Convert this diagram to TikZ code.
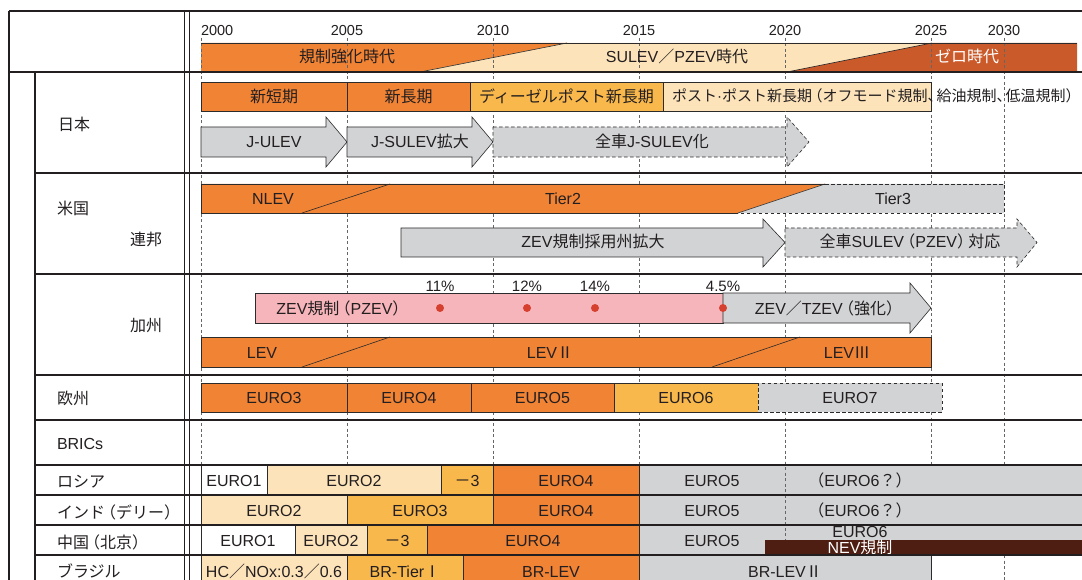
\documentclass[tikz,border=0pt]{standalone}
\usepackage{fontspec}
\setmainfont{Liberation Sans}
\newfontfamily\jp{Noto Sans CJK JP}
\XeTeXinterchartokenstate=1
\newXeTeXintercharclass\jpclass
\newcount\jpc
\newcommand\setjprange[2]{\jpc=#1\relax\loop\XeTeXcharclass\jpc=\jpclass\relax\ifnum\jpc<#2\relax\advance\jpc by 1\relax\repeat}
\setjprange{"3000}{"30FF}
\setjprange{"4E00}{"9FFF}
\setjprange{"FF00}{"FFEF}
\setjprange{"2160}{"217F}
\XeTeXinterchartoks 0 \jpclass = {\jp}
\XeTeXinterchartoks 4095 \jpclass = {\jp}
\XeTeXinterchartoks \jpclass 0 = {\rmfamily}
\XeTeXinterchartoks 4095 0 = {\rmfamily}
\newcommand\lp{\kern-.3em（}
\newcommand\rp{）\kern-.3em}
\definecolor{org}{HTML}{F18334}
\definecolor{yel}{HTML}{F9B84B}
\definecolor{pch}{HTML}{FDE3BA}
\definecolor{zro}{HTML}{CB5A2B}
\definecolor{gry}{HTML}{D2D3D5}
\definecolor{pnk}{HTML}{F6B5BA}
\definecolor{nevc}{HTML}{4F1E12}
\definecolor{dotc}{HTML}{D5402F}
\definecolor{txt}{HTML}{231F20}
\definecolor{ln}{HTML}{2B2B2B}
\newcommand\cell[7]{%
  \pgfmathsetmacro\cw{#3-#2}%
  \pgfmathsetmacro\ch{#5-#4}%
  \node[cellbox,minimum width=\cw pt,minimum height=\ch pt,#6] (#1) at ({(#2+#3)/2},{(#4+#5)/2}) {#7};}
\newcommand\tlarrow[8]{\draw[#8] (#1,#4) -- (#2,#4) -- (#2,#6) -- (#3,{(#4+#5)/2}) -- (#2,#7) -- (#2,#5) -- (#1,#5) -- cycle;}
\begin{document}
\begin{tikzpicture}[x=1pt,y=-1pt,
  every node/.style={font=\fontsize{16}{19}\selectfont, text=txt, inner sep=0pt, outer sep=0pt, text height=12pt, text depth=0pt},
  cellbox/.style={draw=ln, line width=0.6pt},
  bd/.style={draw=ln, line width=0.6pt},
  dsh/.style={dash pattern=on 3.5pt off 2.5pt},
  yearline/.style={draw=black!60, line width=0.7pt, dash pattern=on 3pt off 2.5pt},
  tbl/.style={draw=txt, line width=1.6pt},
  thinv/.style={draw=txt, line width=1pt},
  lbl/.style={anchor=west},
  yr/.style={font=\fontsize{14.5}{17}\selectfont},
  pct/.style={font=\fontsize{15}{18}\selectfont},
  dot/.style={circle, fill=dotc, minimum size=8pt, text height=0pt, inner sep=0pt}
  ]
\useasboundingbox (0,0) rectangle (1082,580);
\fill[white] (0,0) rectangle (1082,580);
\clip (0,0) rectangle (1082,580);

% year lines
\foreach \x in {201,347,493,639,785,931,1004} \draw[yearline] (\x,38) -- (\x,580);

% year labels
\node[yr,anchor=west] (y2000) at (201,30) {2000};
\node[yr] (y2005) at (347,30) {2005};
\node[yr] (y2010) at (493,30) {2010};
\node[yr] (y2015) at (639,30) {2015};
\node[yr] (y2020) at (785,30) {2020};
\node[yr] (y2025) at (931,30) {2025};
\node[yr] (y2030) at (1004,30) {2030};

% header band
\fill[org] (201,43) -- (567,43) -- (420,72) -- (201,72) -- cycle;
\fill[pch] (567,43) -- (932,43) -- (787,72) -- (420,72) -- cycle;
\fill[zro] (932,43) -- (1077,43) -- (1077,72) -- (787,72) -- cycle;
\begin{scope}
\clip (0,43) rectangle (1082,72);
\foreach \x in {201,347,493,639,785,931,1004} \draw[yearline] (\x,38) -- (\x,580);
\end{scope}
\draw[bd] (201,43) -- (1077,43);
\draw[bd] (420,72) -- (567,43);
\draw[bd] (787,72) -- (932,43);
\node (hd1) at (347,57) {規制強化時代};
\node (hd2) at (677,57) {SULEV／PZEV時代};
\node[text=white] (hd3) at (967,57) {ゼロ時代};

% Japan
\cell{jp1}{201}{347}{82}{111}{fill=org}{新短期}
\cell{jp2}{347}{470}{82}{111}{fill=org}{新長期}
\cell{jp3}{470}{663}{82}{111}{fill=yel}{ディーゼルポスト新長期}
\cell{jp4}{663}{931}{82}{111}{fill=pch}{}
\node[lbl,font=\fontsize{15}{18}\selectfont] (jp4t) at (672,96) {ポスト·ポスト新長期\lp オフモード規制、\kern-.4em 給油規制、\kern-.4em 低温規制\rp};
\tlarrow{201}{326}{347}{127}{157}{117}{167}{bd,fill=gry}
\tlarrow{347}{472}{493}{127}{157}{117}{167}{bd,fill=gry}
\tlarrow{493}{787}{809}{127}{157}{117}{167}{bd,fill=gry,dsh}
\begin{scope}
\clip (780,112) rectangle (790,170);
\draw[yearline] (785,38) -- (785,580);
\end{scope}
\node (a1) at (274,142) {J-ULEV};
\node (a2) at (420,142) {J-SULEV拡大};
\node (a3) at (652,142) {全車J-SULEV化};

% US federal
\fill[org] (201,184) -- (825,184) -- (738,213) -- (201,213) -- cycle;
\fill[gry] (825,184) -- (1004,184) -- (1004,213) -- (738,213) -- cycle;
\draw[bd] (825,184) -- (201,184) -- (201,213) -- (738,213);
\draw[bd,dsh] (825,184) -- (1004,184) -- (1004,213) -- (738,213);
\draw[bd] (302,213) -- (390,184);
\draw[bd] (738,213) -- (825,184);
\node (nlev) at (273,199) {NLEV};
\node (tier2) at (563,199) {Tier2};
\node (tier3) at (893,199) {Tier3};
\tlarrow{401}{763}{785}{228}{257}{219}{267}{bd,fill=gry}
\tlarrow{785}{1017}{1037}{228}{257}{219}{267}{bd,fill=gry,dsh}
\node (zevk) at (593,242) {ZEV規制採用州拡大};
\node (sulev) at (910,242) {全車SULEV\lp PZEV\rp 対応};

% California
\node[pct] (p1) at (440,285) {11\%};
\node[pct] (p2) at (527,285) {12\%};
\node[pct] (p3) at (595,285) {14\%};
\node[pct] (p4) at (723,285) {4.5\%};
\cell{zevb}{255}{723}{293}{323}{fill=pnk}{}
\node (zevt) at (340,308) {ZEV規制\lp PZEV\rp};
\tlarrow{723}{910}{931}{293}{323}{283}{333}{bd,fill=gry}
\node (tzev) at (826,308) {ZEV／TZEV\lp 強化\rp};
\node[dot] (d1) at (440,308) {};
\node[dot] (d2) at (527,308) {};
\node[dot] (d3) at (595,308) {};
\node[dot] (d4) at (723,308) {};
\cell{lev}{201}{931}{337}{367}{fill=org}{}
\draw[bd] (302,367) -- (390,337);
\draw[bd] (712,367) -- (800,337);
\node (lev1) at (262,352) {LEV};
\node (lev2) at (550,352) {LEVⅡ};
\node (lev3) at (847,352) {LEVⅢ};

% Europe
\cell{eu3}{201}{347}{383}{412}{fill=org}{EURO3}
\cell{eu4}{347}{471}{383}{412}{fill=org}{EURO4}
\cell{eu5}{471}{614}{383}{412}{fill=org}{EURO5}
\cell{eu6}{614}{758}{383}{412}{fill=yel}{EURO6}
\cell{eu7}{758}{942}{383}{412}{fill=gry,dsh}{EURO7}

% Russia
\cell{ru1}{201}{267}{465}{495}{fill=white}{EURO1}
\cell{ru2}{267}{441}{465}{495}{fill=pch}{EURO2}
\cell{ru3}{441}{493}{465}{495}{fill=yel}{}
\cell{ru4}{493}{639}{465}{495}{fill=org}{EURO4}
\cell{ru5}{639}{1090}{465}{495}{fill=gry}{}
\node (ru3t) at (467,480) {－3};
\node (ru5t) at (712,480) {EURO5};
\node (ru6t) at (860,480) {\lp EURO6？\rp};
% India
\cell{in2}{201}{347}{495}{525}{fill=pch}{EURO2}
\cell{in3}{347}{493}{495}{525}{fill=yel}{EURO3}
\cell{in4}{493}{639}{495}{525}{fill=org}{EURO4}
\cell{in5}{639}{1090}{495}{525}{fill=gry}{}
\node (in5t) at (712,510) {EURO5};
\node (in6t) at (860,510) {\lp EURO6？\rp};
% China
\cell{cn1}{201}{295}{525}{555}{fill=white}{EURO1}
\cell{cn2}{295}{367}{525}{555}{fill=pch}{EURO2}
\cell{cn3}{367}{427}{525}{555}{fill=yel}{－3}
\cell{cn4}{427}{639}{525}{555}{fill=org}{EURO4}
\cell{cn5}{639}{1090}{525}{555}{fill=gry}{}
\node (cn5t) at (712,540) {EURO5};
\node (cn6t) at (860,531) {EURO6};
\begin{scope}
\clip (780,460) rectangle (790,540);
\draw[yearline] (785,38) -- (785,580);
\end{scope}
\cell{nev}{765}{1090}{540}{555}{fill=nevc,draw=none}{}
\node[text=white] (nevt) at (860,547) {NEV規制};
% Brazil
\cell{br1}{201}{347}{555}{587}{fill=pch}{HC／NOx:0.3／0.6}
\cell{br2}{347}{463}{555}{587}{fill=yel}{BR-TierⅠ}
\cell{br3}{463}{639}{555}{587}{fill=org}{BR-LEV}
\cell{br4}{639}{931}{555}{587}{fill=gry}{BR-LEVⅡ}

% left labels
\node[lbl] (lj) at (58,125) {日本};
\node[lbl] (lus) at (57,209) {米国};
\node[lbl] (lfed) at (130,240) {連邦};
\node[lbl] (lca) at (130,325) {加州};
\node[lbl] (leu) at (57,398) {欧州};
\node[lbl] (lbr) at (57,443) {BRICs};
\node[lbl] (lru) at (57,481) {ロシア};
\node[lbl] (lin) at (57,512) {インド\lp デリー\rp};
\node[lbl] (lcn) at (57,542) {中国\lp 北京\rp};
\node[lbl] (lbz) at (57,571) {ブラジル};

% table lines
\draw[tbl] (9,11) -- (1082,11);
\draw[tbl] (9,11) -- (9,580);
\draw[tbl] (9,72) -- (1082,72);
\draw[tbl] (35,72) -- (35,580);
\draw[thinv] (184,11) -- (184,580);
\draw[thinv] (189,11) -- (189,580);
\foreach \y in {173,274,375,420,465,495,525,555} \draw[tbl] (35,\y) -- (1082,\y);
\end{tikzpicture}
\end{document}
